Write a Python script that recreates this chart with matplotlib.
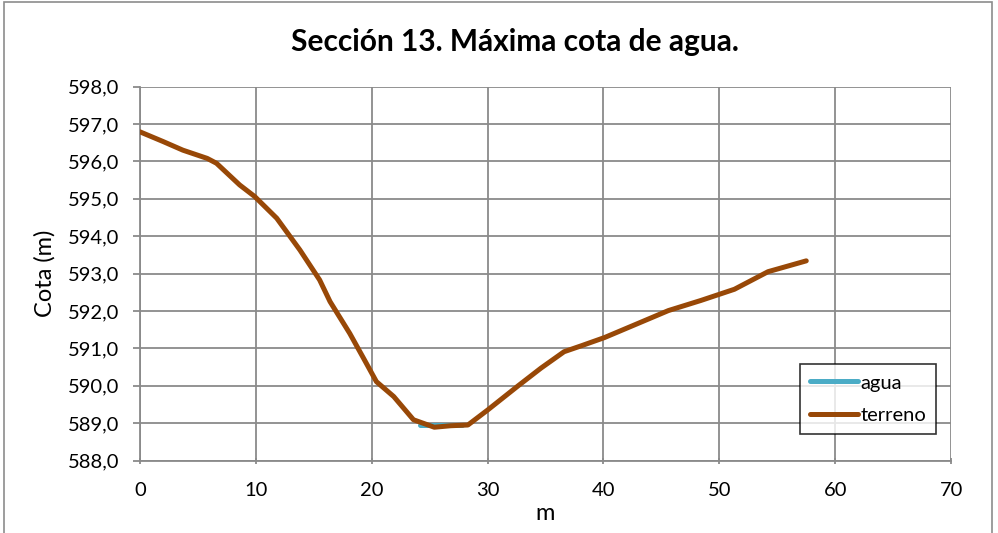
import matplotlib
matplotlib.use("Agg")
import matplotlib.pyplot as plt
from matplotlib.ticker import FuncFormatter, MultipleLocator
from matplotlib.patches import Rectangle

plt.rcParams['font.family'] = ['Lato', 'DejaVu Sans']

title = "Sección 13. Máxima cota de agua."
x_label = "m"
y_label = "Cota (m)"

terreno_x = [0.0, 2.0, 3.7, 5.8, 6.6, 8.6, 9.9, 11.8, 13.8, 15.5, 16.4, 18.1, 19.3,
             20.4, 21.9, 23.6, 25.4, 26.8, 28.3, 30.0, 32.6, 34.6, 36.6, 38.1,
             40.1, 42.7, 45.6, 48.4, 51.3, 54.2, 57.5]
terreno_y = [596.79, 596.53, 596.30, 596.08, 595.95, 595.37, 595.06, 594.48, 593.63,
             592.83, 592.25, 591.40, 590.73, 590.11, 589.71, 589.09, 588.89, 588.93,
             588.95, 589.35, 589.99, 590.47, 590.91, 591.07, 591.29, 591.63, 592.01,
             592.28, 592.58, 593.05, 593.34]

agua_x = [24.2, 27.8]
agua_y = [588.96, 588.96]

x_ticks = [0, 10, 20, 30, 40, 50, 60, 70]
y_min, y_max = 588.0, 598.0

fig = plt.figure(figsize=(9.98, 5.33), dpi=100)
fig.patches.append(Rectangle((0.004, -0.01), 0.99, 1.007, transform=fig.transFigure,
                             fill=False, edgecolor='#8c8c8c', linewidth=1.2))

ax = fig.add_axes([0.1403, 0.136, 0.8127, 0.7015])
ax.plot(agua_x, agua_y, color='#4BACC6', linewidth=3.6, solid_capstyle='round', label='agua', zorder=3)
ax.plot(terreno_x, terreno_y, color='#984807', linewidth=3.6, solid_capstyle='round',
        solid_joinstyle='round', label='terreno', zorder=4)

ax.set_xlim(0, 70)
ax.set_ylim(y_min, y_max)
ax.set_xticks(x_ticks)
ax.yaxis.set_major_locator(MultipleLocator(1))
ax.yaxis.set_major_formatter(FuncFormatter(lambda v, p: f"{v:.1f}".replace('.', ',')))

ax.grid(True, color='#8a8a8a', linewidth=1.3)
ax.set_axisbelow(True)
for s in ['top', 'right']:
    ax.spines[s].set_visible(False)
for s in ['left', 'bottom']:
    ax.spines[s].set_color('#8a8a8a')
    ax.spines[s].set_linewidth(1.3)
ax.tick_params(axis='both', colors='#8a8a8a', labelcolor='black', labelsize=14.5, length=5, width=1.3)
ax.tick_params(axis='x', direction='inout', pad=13)
ax.tick_params(axis='y', direction='out', pad=10)

ax.set_xlabel(x_label, fontsize=17, labelpad=3)
ax.set_ylabel(y_label, fontsize=17)
ax.yaxis.set_label_coords(-0.104, 0.5)
fig.text(0.5155, 0.922, title, ha='center', va='center', fontsize=21.5, fontweight='bold')

leg = ax.legend(loc='lower right', bbox_to_anchor=(0.9817, 0.0715), fontsize=14.5, frameon=True,
                fancybox=False, edgecolor='black', handlelength=2.4, handletextpad=0.1,
                labelspacing=0.75, borderpad=0.5, borderaxespad=0)
leg.get_frame().set_linewidth(1.2)

fig.savefig('out.png', dpi=100)
